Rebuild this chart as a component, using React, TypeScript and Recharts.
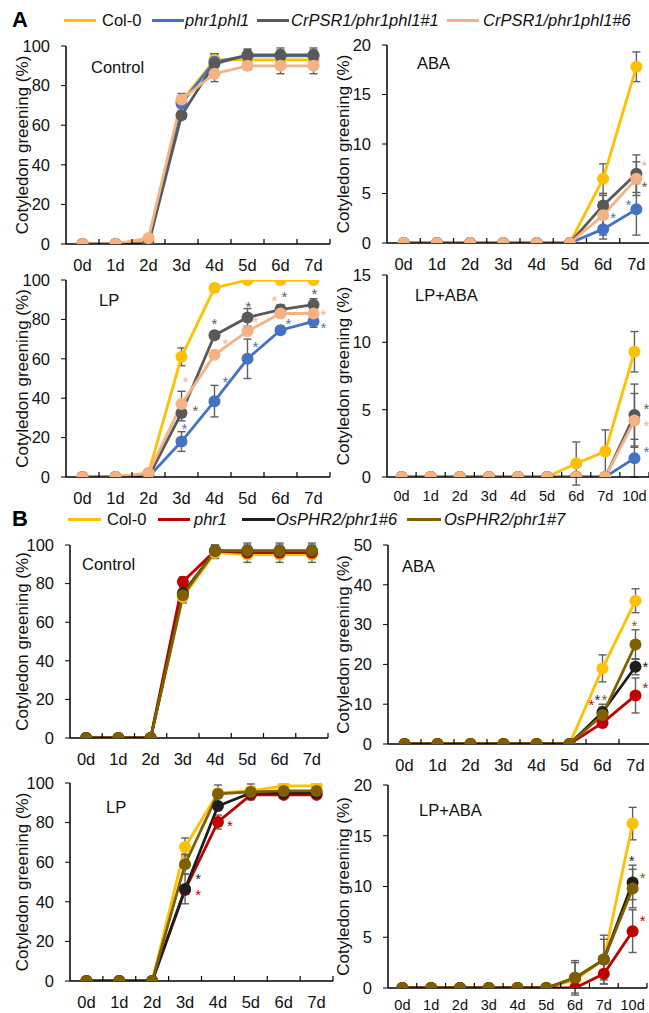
import React from "react";
import { LineChart, Line, XAxis, YAxis, ErrorBar, ReferenceDot } from "recharts";

const FONT = '"Liberation Sans", Arial, sans-serif';

const days = ["0d", "1d", "2d", "3d", "4d", "5d", "6d", "7d"];
const daysLong = ["0d", "1d", "2d", "3d", "4d", "5d", "6d", "7d", "10d"];

const namesA = ["Col-0", "phr1phl1", "CrPSR1/phr1phl1#1", "CrPSR1/phr1phl1#6"];
const colorsA = ["#FFC000", "#4472C4", "#595959", "#F4B183"];
const namesB = ["Col-0", "phr1", "OsPHR2/phr1#6", "OsPHR2/phr1#7"];
const colorsB = ["#FFC000", "#C00000", "#1E1E1E", "#7F6000"];

// series order in every panel: Col-0, mutant, line #1/#6, line #6/#7
const aControl = [
  [0, 0, 2, 72, 93, 93, 93, 93],
  [0, 0, 0, 71, 92, 95, 95, 95],
  [0, 0, 0, 65, 91, 95.5, 95.5, 95.5],
  [0, 0, 3, 73, 86, 90, 90, 90],
];
const aControlSd = [
  [0, 0, 0, 2, 3, 2, 2, 2],
  [0, 0, 0, 2, 4, 3, 3, 3],
  [0, 0, 0, 2, 5, 3, 3.5, 3.5],
  [0, 0, 0, 3, 4, 2, 4, 4],
];

const aAba = [
  [0, 0, 0, 0, 0, 0, 6.5, 17.8],
  [0, 0, 0, 0, 0, 0, 1.4, 3.4],
  [0, 0, 0, 0, 0, 0, 3.8, 7.0],
  [0, 0, 0, 0, 0, 0, 2.8, 6.5],
];
const aAbaSd = [
  [0, 0, 0, 0, 0, 0, 1.5, 1.5],
  [0, 0, 0, 0, 0, 0, 1.0, 2.6],
  [0, 0, 0, 0, 0, 0, 1.2, 1.9],
  [0, 0, 0, 0, 0, 0, 2.0, 1.7],
];
const aAbaStars = [
  { day: "6d", y: 2.8, s: 1, dx: 10 },
  { day: "7d", y: 8.1, s: 3, dx: 8 },
  { day: "7d", y: 6.0, s: 2, dx: 8 },
  { day: "7d", y: 4.1, s: 1, dx: -8 },
];

const aLp = [
  [0, 0, 2, 61, 96, 100, 100, 100],
  [0, 0, 0, 18, 38.5, 60, 74.5, 79],
  [0, 0, 0, 32.5, 72, 81, 85, 87.5],
  [0, 0, 2, 37, 62, 74, 83, 83],
];
const aLpSd = [
  [0, 0, 0, 4.5, 2, 0, 0, 0],
  [0, 0, 0, 5, 8, 10, 2, 3],
  [0, 0, 0, 4, 2, 4.5, 2.5, 3],
  [0, 0, 0, 6.5, 0, 0, 0, 0],
];
const aLpStars = [
  { day: "3d", y: 50, s: 3, dx: 4 },
  { day: "3d", y: 35, s: 2, dx: 14 },
  { day: "3d", y: 26, s: 1, dx: 3 },
  { day: "4d", y: 79, s: 2, dx: 0 },
  { day: "4d", y: 69, s: 3, dx: 11 },
  { day: "4d", y: 50, s: 1, dx: 11 },
  { day: "5d", y: 88, s: 2, dx: 1 },
  { day: "5d", y: 80, s: 3, dx: 8 },
  { day: "5d", y: 67.5, s: 1, dx: 8 },
  { day: "6d", y: 91, s: 3, dx: -6 },
  { day: "6d", y: 93, s: 2, dx: 4 },
  { day: "6d", y: 79, s: 1, dx: 8 },
  { day: "7d", y: 94.5, s: 2, dx: 1 },
  { day: "7d", y: 84, s: 3, dx: 10 },
  { day: "7d", y: 77, s: 1, dx: 10 },
];

const aLpAba = [
  [0, 0, 0, 0, 0, 0, 1.0, 1.9, 9.3],
  [0, 0, 0, 0, 0, 0, 0, 0, 1.4],
  [0, 0, 0, 0, 0, 0, 0, 0, 4.6],
  [0, 0, 0, 0, 0, 0, 0, 0, 4.2],
];
const aLpAbaSd = [
  [0, 0, 0, 0, 0, 0, 1.6, 1.6, 1.5],
  [0, 0, 0, 0, 0, 0, 0, 0, 1.4],
  [0, 0, 0, 0, 0, 0, 0, 0, 2.3],
  [0, 0, 0, 0, 0, 0, 0, 0, 2.0],
];
const aLpAbaStars = [
  { day: "10d", y: 5.3, s: 2, dx: 12 },
  { day: "10d", y: 4.0, s: 3, dx: 12 },
  { day: "10d", y: 2.1, s: 1, dx: 12 },
];

const bControl = [
  [0, 0, 0, 73, 96, 95, 95, 95],
  [0, 0, 0, 81, 97, 96, 96, 96],
  [0, 0, 0, 75, 97, 97, 97, 97],
  [0, 0, 0, 74, 97, 97, 97, 97],
];
const bControlSd = [
  [0, 0, 0, 3, 3, 4, 4, 4],
  [0, 0, 0, 2.5, 0, 0, 0, 0],
  [0, 0, 0, 3, 3, 3, 3, 3],
  [0, 0, 0, 3, 3, 4, 4, 4],
];

const bAba = [
  [0, 0, 0, 0, 0, 0, 19, 36],
  [0, 0, 0, 0, 0, 0, 5.3, 12.2],
  [0, 0, 0, 0, 0, 0, 8, 19.4],
  [0, 0, 0, 0, 0, 0, 7.3, 25],
];
const bAbaSd = [
  [0, 0, 0, 0, 0, 0, 3.4, 3],
  [0, 0, 0, 0, 0, 0, 0, 4.4],
  [0, 0, 0, 0, 0, 0, 2, 2],
  [0, 0, 0, 0, 0, 0, 2, 3.7],
];
const bAbaStars = [
  { day: "6d", y: 10.6, s: 1, dx: -11 },
  { day: "6d", y: 11.9, s: 2, dx: -5 },
  { day: "6d", y: 11.9, s: 3, dx: 2 },
  { day: "7d", y: 30.4, s: 3, dx: -1 },
  { day: "7d", y: 20.1, s: 2, dx: 10 },
  { day: "7d", y: 14.8, s: 1, dx: 10 },
];

const bLp = [
  [0, 0, 0, 67.7, 95, 96, 98.5, 98.5],
  [0, 0, 0, 46, 80.3, 94, 94, 94],
  [0, 0, 0, 46.5, 88.4, 95, 95, 95],
  [0, 0, 0, 59, 94.5, 95.5, 96, 96],
];
const bLpSd = [
  [0, 0, 0, 4.5, 0, 0, 0, 0],
  [0, 0, 0, 0, 3.5, 0, 0, 0],
  [0, 0, 0, 7.5, 0, 3, 0, 0],
  [0, 0, 0, 5, 4.5, 4, 0, 0],
];
const bLpStars = [
  { day: "3d", y: 53, s: 2, dx: 13 },
  { day: "3d", y: 45, s: 1, dx: 13 },
  { day: "4d", y: 80, s: 1, dx: 12 },
];

const bLpAba = [
  [0, 0, 0, 0, 0, 0, 0.8, 2.8, 16.2],
  [0, 0, 0, 0, 0, 0, 0, 1.4, 5.6],
  [0, 0, 0, 0, 0, 0, 1.0, 2.8, 10.4],
  [0, 0, 0, 0, 0, 0, 1.0, 2.8, 9.8],
];
const bLpAbaSd = [
  [0, 0, 0, 0, 0, 0, 0, 0, 1.6],
  [0, 0, 0, 0, 0, 0, 0, 1, 2.1],
  [0, 0, 0, 0, 0, 0, 1.7, 2.4, 1.7],
  [0, 0, 0, 0, 0, 0, 1.5, 2, 1.9],
];
const bLpAbaStars = [
  { day: "10d", y: 12.8, s: 2, dx: -1 },
  { day: "10d", y: 11.1, s: 3, dx: 10 },
  { day: "10d", y: 6.9, s: 1, dx: 10 },
];

function buildRows(cats: string[], vals: number[][], sds: number[][]) {
  return cats.map((d, i) => {
    const r: any = { day: d };
    vals.forEach((v, k) => {
      r["v" + k] = v[i];
      r["e" + k] = sds[k][i];
    });
    return r;
  });
}

const TOP = 12;
const XH = 34;

function Panel(props: any) {
  const { cats, vals, sds, colors, stars = [], yMax, yStep, px, py, pr, pb, left, xFont = 16.5, xGap = 21, titleX } = props;
  const rows = buildRows(cats, vals, sds);
  const band = (pr - px) / cats.length;
  const top = py - TOP;
  const height = pb + XH - top;
  const width = pr + 10 - left;
  const axisY = TOP + (pb - py);
  const ticks: number[] = [];
  for (let t = 0; t <= yMax; t += yStep) ticks.push(t);

  const xTick = (p: any) => {
    const x = p.x;
    const last = p.index === cats.length - 1;
    return (
      <g>
        {p.index > 0 && (
          <line x1={x - band / 2} x2={x - band / 2} y1={axisY} y2={axisY - 5} stroke="#000" strokeWidth={1.2} />
        )}
        {last && <line x1={x + band / 2} x2={x + band / 2} y1={axisY} y2={axisY - 5} stroke="#000" strokeWidth={1.2} />}
        <text x={x} y={axisY + xGap + xFont * 0.36} textAnchor="middle" fontSize={xFont} fill="#111" fontFamily={FONT}>
          {p.payload.value}
        </text>
      </g>
    );
  };

  const yTitle = (p: any) => {
    const vb = p.viewBox;
    const cx = vb.x + titleX;
    const cy = TOP + (pb - py) / 2;
    return (
      <text x={cx} y={cy} transform={`rotate(-90 ${cx} ${cy})`} textAnchor="middle" dominantBaseline="central" fontSize={17} fill="#111" fontFamily={FONT}>
        Cotyledon greening (%)
      </text>
    );
  };

  return (
    <div style={{ position: "absolute", left, top, width, height }}>
      <LineChart width={width} height={height} data={rows} margin={{ top: TOP, right: 10, left: 0, bottom: 0 }}>
        <XAxis
          dataKey="day"
          height={XH}
          padding={{ left: band / 2, right: band / 2 }}
          axisLine={{ stroke: "#000", strokeWidth: 1.5 }}
          tickLine={false}
          tickSize={0}
          tickMargin={0}
          interval={0}
          tick={xTick}
        />
        <YAxis
          width={px - left}
          domain={[0, yMax]}
          ticks={ticks}
          allowDataOverflow
          axisLine={{ stroke: "#000", strokeWidth: 1.5 }}
          tickLine={{ stroke: "#000" }}
          tickSize={5}
          tickMargin={11}
          tick={{ fontSize: 16.5, fill: "#111", fontFamily: FONT }}
          label={{ content: yTitle }}
        />
        {vals.map((_: any, k: number) => (
          <Line
            key={k}
            type="linear"
            dataKey={"v" + k}
            stroke={colors[k]}
            strokeWidth={2.8}
            dot={{ r: 6, fill: colors[k], stroke: colors[k], strokeWidth: 0 }}
            activeDot={false}
            isAnimationActive={false}
          >
            <ErrorBar dataKey={"e" + k} direction="y" width={4} stroke="#5f5f5f" strokeWidth={1.4} />
          </Line>
        ))}
        {stars.map((st: any, i: number) => (
          <ReferenceDot
            key={"s" + i}
            x={st.day}
            y={st.y}
            r={1}
            shape={(p: any) => (
              <text x={p.cx + st.dx} y={p.cy + 8} textAnchor="middle" fontSize={15} fill={colors[st.s]} fontFamily={FONT}>
                *
              </text>
            )}
          />
        ))}
      </LineChart>
    </div>
  );
}

function Title({ text, x, y }: any) {
  return (
    <div style={{ position: "absolute", left: x, top: y - 10, lineHeight: "20px", fontSize: 16.5, fontFamily: FONT, color: "#111" }}>
      {text}
    </div>
  );
}

function LegendRow({ letter, y, names, colors, lines, texts }: any) {
  return (
    <>
      <div style={{ position: "absolute", left: 12, top: y - 12, lineHeight: "24px", fontSize: 22, fontWeight: "bold", fontFamily: FONT }}>
        {letter}
      </div>
      {names.map((n: string, i: number) => (
        <React.Fragment key={n}>
          <div style={{ position: "absolute", left: lines[i][0], top: y - 1.5, width: lines[i][1] - lines[i][0], height: 3.5, background: colors[i] }} />
          <div
            style={{
              position: "absolute",
              left: texts[i],
              top: y - 10,
              lineHeight: "20px",
              fontSize: 16.5,
              fontFamily: FONT,
              fontStyle: i === 0 ? "normal" : "italic",
              whiteSpace: "nowrap",
              color: "#111",
            }}
          >
            {n}
          </div>
        </React.Fragment>
      ))}
    </>
  );
}

export default function App() {
  return (
    <div style={{ position: "absolute", left: 0, top: 0, width: 649, height: 1013, overflow: "hidden", background: "#fff" }}>
      <LegendRow
        letter="A"
        y={20}
        names={namesA}
        colors={colorsA}
        lines={[[64, 96], [152, 184], [257, 289], [447, 479]]}
        texts={[102, 185, 291, 483]}
      />
      <LegendRow
        letter="B"
        y={519}
        names={namesB}
        colors={colorsB}
        lines={[[68, 101], [158, 190], [242, 275], [407, 441]]}
        texts={[107, 194, 276, 444]}
      />

      <Panel cats={days} vals={aControl} sds={aControlSd} colors={colorsA} yMax={100} yStep={20} px={66} py={46} pr={330} pb={244} left={0} titleX={22} />
      <Panel cats={days} vals={aAba} sds={aAbaSd} colors={colorsA} stars={aAbaStars} yMax={20} yStep={5} px={387} py={45} pr={653} pb={243} left={325} titleX={18} />
      <Panel cats={days} vals={aLp} sds={aLpSd} colors={colorsA} stars={aLpStars} yMax={100} yStep={20} px={66} py={280} pr={330} pb={477} left={0} titleX={22} />
      <Panel cats={daysLong} vals={aLpAba} sds={aLpAbaSd} colors={colorsA} stars={aLpAbaStars} yMax={15} yStep={5} px={387} py={275} pr={649} pb={477} left={325} titleX={18} xFont={14.5} xGap={19} />

      <Panel cats={days} vals={bControl} sds={bControlSd} colors={colorsB} yMax={100} yStep={20} px={70} py={545} pr={328} pb={738} left={0} titleX={22} />
      <Panel cats={days} vals={bAba} sds={bAbaSd} colors={colorsB} stars={bAbaStars} yMax={50} yStep={10} px={388} py={545} pr={652} pb={744} left={325} titleX={18} />
      <Panel cats={days} vals={bLp} sds={bLpSd} colors={colorsB} stars={bLpStars} yMax={100} yStep={20} px={70} py={783} pr={333} pb={981} left={0} titleX={22} />
      <Panel cats={daysLong} vals={bLpAba} sds={bLpAbaSd} colors={colorsB} stars={bLpAbaStars} yMax={20} yStep={5} px={388} py={785} pr={647} pb={988} left={325} titleX={18} xFont={14.5} xGap={17} />

      <Title text="Control" x={91} y={67} />
      <Title text="ABA" x={417} y={63} />
      <Title text="LP" x={99} y={300} />
      <Title text="LP+ABA" x={415} y={295} />
      <Title text="Control" x={82} y={564} />
      <Title text="ABA" x={402} y={566} />
      <Title text="LP" x={106} y={807} />
      <Title text="LP+ABA" x={419} y={810} />
    </div>
  );
}
